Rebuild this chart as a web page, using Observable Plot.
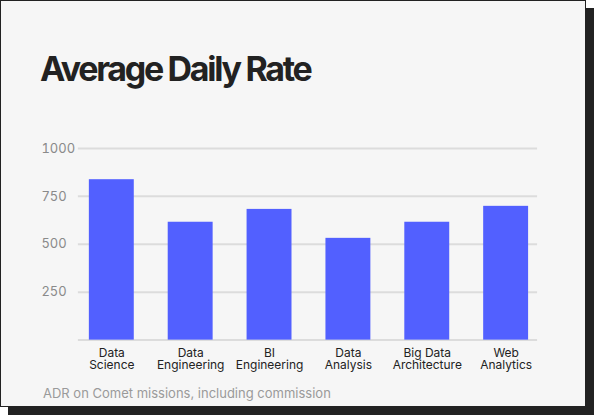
<!DOCTYPE html>
<html>
<head>
<meta charset="utf-8">
<script src="https://cdn.jsdelivr.net/npm/d3@7"></script>
<script src="https://cdn.jsdelivr.net/npm/@observablehq/plot@0.6"></script>
<style>
  body { margin: 0; background: #fff; font-family: Inter, sans-serif; }
  #card {
    position: absolute; left: 0; top: 0; width: 584px; height: 405px;
    border: 1px solid #222; background: #f6f6f6;
    box-shadow: 8px 8px 0 #222;
  }
  #title {
    position: absolute; left: 39px; top: 51px; margin: 0;
    font-size: 34px; line-height: 34px; font-weight: 700;
    letter-spacing: -2.3px; color: #222;
  }
  #chart { position: absolute; left: -1px; top: 119px; }
  #caption {
    position: absolute; left: 42px; top: 383px;
    font-size: 13px; line-height: 18px; color: #9a9a9a;
  }
</style>
</head>
<body>
<div id="card">
  <h1 id="title">Average Daily Rate</h1>
  <div id="chart"></div>
  <div id="caption">ADR on Comet missions, including commission</div>
</div>
<script>
// categories and values
const roles = ["Data Science", "Data Engineering", "BI Engineering", "Data Analysis", "Big Data Architecture", "Web Analytics"];
const labels = ["Data\nScience", "Data\nEngineering", "BI\nEngineering", "Data\nAnalysis", "Big Data\nArchitecture", "Web\nAnalytics"];
const rates = [837, 615, 682, 531, 615, 698];
const yTicks = [250, 500, 750, 1000];
const gridLines = [0, 250, 500, 750, 1000];

const data = roles.map((r, i) => ({role: r, rate: rates[i]}));
const labelOf = new Map(roles.map((r, i) => [r, labels[i]]));

const chart = Plot.plot({
  width: 586,
  height: 262,
  marginLeft: 78,
  marginRight: 48,
  marginTop: 28,
  marginBottom: 42,
  style: {background: "transparent", fontFamily: "Inter, sans-serif"},
  x: {domain: roles, paddingInner: 0.435, paddingOuter: 0.11, align: 0.55, axis: null, label: null},
  y: {domain: [0, 1000], axis: null, label: null},
  marks: [
    Plot.ruleY(gridLines, {stroke: "#dcdcdc", strokeWidth: 2}),
    Plot.barY(data, {x: "role", y: "rate", fill: "#5260ff"}),
    Plot.axisY(yTicks, {
      anchor: "left", label: null, tickSize: 0, tickPadding: 0, textAnchor: "start", dx: -37,
      tickFormat: d => String(d), fontSize: 13, fill: "#8a8a8a"
    }),
    Plot.axisX(roles, {
      anchor: "bottom", label: null, tickSize: 0, tickPadding: 8, tickFormat: d => labelOf.get(d),
      fontSize: 12, lineHeight: 1, fill: "#222"
    })
  ]
});

d3.select("#chart").append(() => chart);
</script>
</body>
</html>
